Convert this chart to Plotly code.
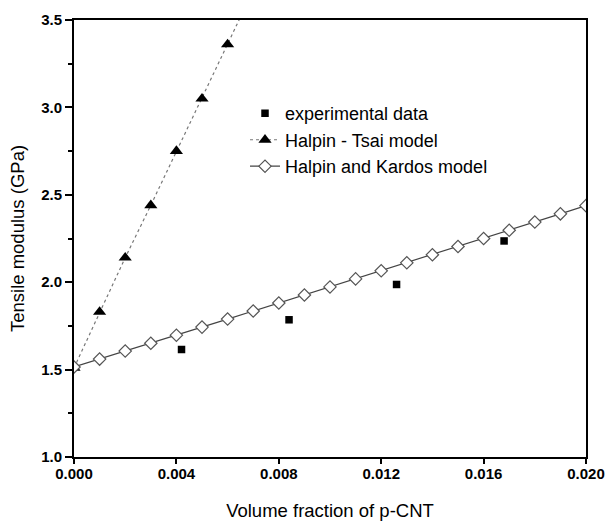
import plotly.graph_objects as go

# Volume fraction grid for the model curves
model_x = [0.000, 0.001, 0.002, 0.003, 0.004, 0.005, 0.006, 0.007, 0.008, 0.009, 0.010,
           0.011, 0.012, 0.013, 0.014, 0.015, 0.016, 0.017, 0.018, 0.019, 0.020]

# Halpin and Kardos model (GPa)
kardos_y = [1.515, 1.560, 1.606, 1.651, 1.697, 1.743, 1.789, 1.835, 1.881, 1.927, 1.973,
            2.019, 2.065, 2.111, 2.157, 2.204, 2.250, 2.297, 2.344, 2.391, 2.438]

# Halpin - Tsai model (GPa); the curve leaves the plotted range after 0.006
tsai_x = [0.000, 0.001, 0.002, 0.003, 0.004, 0.005, 0.006, 0.007]
tsai_y = [1.51, 1.83, 2.14, 2.44, 2.75, 3.05, 3.36, 3.67]

# Experimental data (GPa)
exp_x = [0.0042, 0.0084, 0.0126, 0.0168]
exp_y = [1.615, 1.785, 1.987, 2.236]

FONT = "Liberation Sans, Arial, sans-serif"

fig = go.Figure()

fig.add_trace(go.Scatter(
    x=exp_x, y=exp_y, mode="markers", name="experimental data",
    marker=dict(symbol="square", size=7.5, color="black"),
))
fig.add_trace(go.Scatter(
    x=tsai_x, y=tsai_y, mode="lines+markers", name="Halpin - Tsai model",
    line=dict(color="#777777", width=1.2, dash="dot"),
    marker=dict(symbol="triangle-up", size=11.5, color="black"),
))
fig.add_trace(go.Scatter(
    x=model_x, y=kardos_y, mode="lines+markers", name="Halpin and Kardos model",
    line=dict(color="#444444", width=1.2),
    marker=dict(symbol="diamond", size=9.5, color="white",
                line=dict(color="#555555", width=1.2)),
))

fig.update_layout(
    width=606, height=523,
    margin=dict(l=74, r=20, t=20, b=66, autoexpand=False),
    paper_bgcolor="white", plot_bgcolor="white",
    font=dict(family=FONT, color="black"),
    showlegend=True,
    legend=dict(
        x=0.334, y=0.828, xanchor="left", yanchor="top",
        bgcolor="rgba(0,0,0,0)", borderwidth=0,
        font=dict(family=FONT, size=18, color="black"),
        tracegroupgap=0,
    ),
)

fig.update_xaxes(
    range=[0, 0.020], tickvals=[0.000, 0.004, 0.008, 0.012, 0.016, 0.020],
    ticktext=["0.000", "0.004", "0.008", "0.012", "0.016", "0.020"],
    showgrid=False, zeroline=False, automargin=False,
    showline=True, linecolor="black", linewidth=2, mirror=True,
    ticks="outside", ticklen=5, tickwidth=1.5, tickcolor="black",
    ticklabelstandoff=-3,
    tickfont=dict(family=FONT, size=15, weight="bold"),
    title=dict(text="Volume fraction of p-CNT", font=dict(family=FONT, size=18.5), standoff=23),
)
fig.update_yaxes(
    range=[1.0, 3.5], tickvals=[1.0, 1.5, 2.0, 2.5, 3.0, 3.5],
    ticktext=["1.0", "1.5", "2.0", "2.5", "3.0", "3.5"],
    showgrid=False, zeroline=False, automargin=False,
    showline=True, linecolor="black", linewidth=2, mirror=True,
    ticks="outside", ticklen=7, tickwidth=1.5, tickcolor="black",
    minor=dict(tickvals=[1.25, 1.75, 2.25, 2.75, 3.25], ticks="outside", ticklen=4,
               tickcolor="black", tickwidth=1.5),
    tickfont=dict(family=FONT, size=15, weight="bold"),
    title=dict(text="Tensile modulus (GPa)", font=dict(family=FONT, size=18.5), standoff=12),
)

fig.write_html("out.html")
